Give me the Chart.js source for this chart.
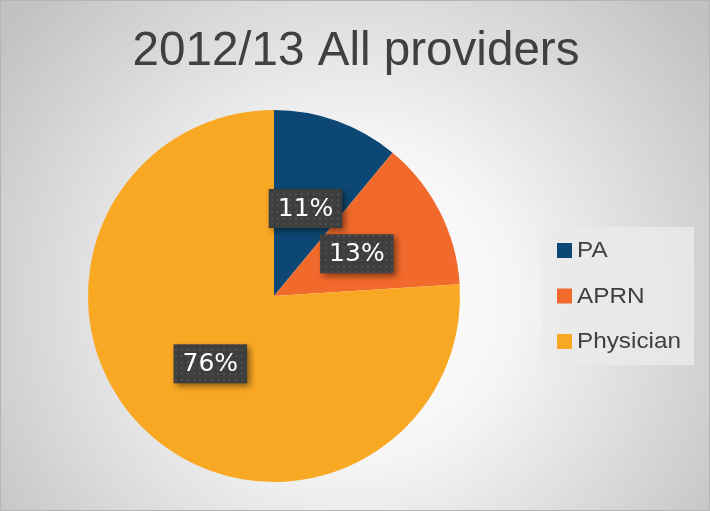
<!DOCTYPE html>
<html>
<head>
<meta charset="utf-8">
<script src="https://cdn.jsdelivr.net/npm/chart.js@4"></script>
<style>
  html, body { margin: 0; padding: 0; }
  #wrap { width: 710px; height: 511px; position: relative; }
</style>
</head>
<body>
<div id="wrap"><canvas id="myPie" width="710" height="511"></canvas></div>
<script>
var titulo = '2012/13 All providers';
var categorias = ['PA', 'APRN', 'Physician'];
var valores = [11, 13, 76];
var cores = ['#0c4873', '#f26a2b', '#f9a824'];

// fundo com gradiente e borda
var fundo = {
    id: 'fundo',
    beforeDraw: function (chart) {
        var ctx = chart.ctx;
        ctx.save();
        var g = ctx.createRadialGradient(355, 300, 0, 355, 300, 440);
        g.addColorStop(0, '#ffffff');
        g.addColorStop(0.35, '#f6f6f6');
        g.addColorStop(1, '#c2c2c2');
        ctx.fillStyle = g;
        ctx.fillRect(0, 0, chart.width, chart.height);
        ctx.strokeStyle = '#b5b5b5';
        ctx.lineWidth = 1;
        ctx.strokeRect(0.5, 0.5, chart.width - 1, chart.height - 1);
        ctx.restore();
    }
};

// titulo e legenda
var textos = {
    id: 'textos',
    afterDraw: function (chart) {
        var ctx = chart.ctx;
        ctx.save();
        ctx.fillStyle = '#404040';
        ctx.font = '49px "Liberation Sans Narrow", "Liberation Sans"';
        ctx.textAlign = 'center';
        ctx.textBaseline = 'middle';
        var w = ctx.measureText(titulo).width;
        ctx.translate(356, 51);
        ctx.scale(447 / w, 1);
        ctx.fillText(titulo, 0, 0);
        ctx.restore();

        ctx.save();
        ctx.fillStyle = 'rgba(234,234,234,0.85)';
        ctx.fillRect(543, 227, 151, 138);
        ctx.font = '22px "Liberation Sans"';
        ctx.textBaseline = 'middle';
        var esc = 104 / ctx.measureText('Physician').width;
        chart.data.labels.forEach(function (lab, i) {
            var y = 250 + i * 45.5;
            ctx.fillStyle = chart.data.datasets[0].backgroundColor[i];
            ctx.fillRect(557, y - 7, 15, 15);
            ctx.fillStyle = '#404040';
            ctx.save();
            ctx.translate(577, y + 1);
            ctx.scale(esc, 1);
            ctx.fillText(lab, 0, 0);
            ctx.restore();
        });
        ctx.restore();
    }
};

// rotulos com caixa escura pontilhada
var rotulos = {
    id: 'rotulos',
    afterDatasetsDraw: function (chart) {
        var ctx = chart.ctx;
        var pc = document.createElement('canvas');
        pc.width = 6; pc.height = 6;
        var p = pc.getContext('2d');
        p.fillStyle = '#3e3e3e';
        p.fillRect(0, 0, 6, 6);
        p.fillStyle = '#505050';
        p.fillRect(1, 1, 2, 2);
        var padrao = ctx.createPattern(pc, 'repeat');
        var meta = chart.getDatasetMeta(0);
        var total = valores.reduce(function (a, b) { return a + b; }, 0);
        meta.data.forEach(function (arc, i) {
            var pos = arc.tooltipPosition();
            var txt = Math.round(valores[i] / total * 100) + '%';
            ctx.save();
            ctx.font = '25px "DejaVu Sans"';
            var w = ctx.measureText(txt).width + 18;
            var h = 39;
            var x = pos.x - w / 2, y = pos.y - h / 2;
            ctx.shadowColor = 'rgba(0,0,0,0.45)';
            ctx.shadowBlur = 6;
            ctx.shadowOffsetX = 3;
            ctx.shadowOffsetY = 3;
            ctx.fillStyle = padrao;
            ctx.fillRect(x, y, w, h);
            ctx.shadowColor = 'transparent';
            ctx.fillStyle = '#ffffff';
            ctx.textAlign = 'center';
            ctx.textBaseline = 'middle';
            ctx.fillText(txt, pos.x, pos.y + 1);
            ctx.restore();
        });
    }
};

var ctx = document.getElementById('myPie');
var myPie = new Chart(ctx, {
    type: 'pie',
    data: {
        labels: categorias,
        datasets: [{
            data: valores,
            backgroundColor: cores,
            borderWidth: 0
        }]
    },
    options: {
        responsive: false,
        animation: false,
        layout: {
            padding: { top: 110, bottom: 29, left: 88, right: 250 }
        },
        plugins: {
            legend: { display: false },
            title: { display: false },
            tooltip: { enabled: false }
        }
    },
    plugins: [fundo, rotulos, textos]
});
</script>
</body>
</html>
